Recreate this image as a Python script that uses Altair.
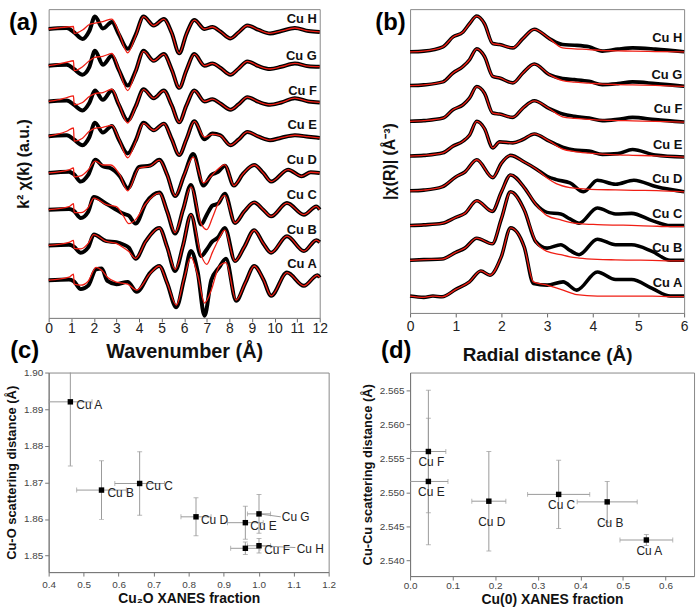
import altair as alt
import pandas as pd

FONT = "Liberation Sans"
SAMPLES = ["Cu A", "Cu B", "Cu C", "Cu D", "Cu E", "Cu F", "Cu G", "Cu H"]

# ---------------- (a) k^2 chi(k) : keypoints -------------
KA_GRID_UP = [0, 0.4, 0.8, 1.1, 1.13, 1.5, 1.8, 2.05, 2.4, 2.8, 3.1, 3.5, 3.85, 4.2, 4.65, 5.1,
              5.45, 5.78, 6.1, 6.45, 6.9, 7.25, 7.6, 8.05, 8.4, 8.8, 9.3, 9.8, 10.3, 10.9, 11.5, 12]
KA_GRID_BC = [0, 0.9, 1.1, 1.13, 1.42, 1.75, 2.0, 2.55, 3.0, 3.3, 3.55, 3.85, 4.3, 4.9, 5.25, 5.6,
              5.95, 6.3, 6.75, 7.0, 7.25, 7.5, 7.8, 8.25, 8.65, 9.1, 9.5, 9.85, 10.55, 11.3, 11.85, 12]
KA_GRID_A = [0, 0.9, 1.1, 1.13, 1.42, 1.75, 2.1, 2.35, 2.6, 3.0, 3.5, 3.9, 4.5, 4.9, 5.25, 5.65,
             6.0, 6.3, 6.6, 6.9, 7.2, 7.55, 7.85, 8.3, 8.7, 9.1, 9.5, 9.85, 10.55, 11.3, 11.9, 12]
KA_GRID_D = [0, 0.9, 1.1, 1.13, 1.42, 1.75, 2.07, 2.4, 2.75, 3.15, 3.5, 4.0, 4.5, 4.9, 5.25, 5.6,
             6.0, 6.4, 6.85, 7.2, 7.5, 7.8, 8.2, 8.6, 9.1, 9.5, 9.85, 10.6, 11.2, 11.6, 12]

CHI_DATA_A = [0, .07, -.1, -.15, -.9, -.55, 1.1, 1.17, -.07, -.4, -.17, -1.17, .77, 1.43, -.3, -2.73,
              .2, 2.93, .8, -3.57, 0, 1.3, 2.17, -2.07, -.3, 1.43, .1, -1.57, .77, -.57, .5, .27]
CHI_FIT_A = [0, .3, .6, -.4, -.5, -.1, 1.3, 1.0, .3, -.2, -.4, -1.0, .7, 1.43, -.3, -2.5,
             .2, 2.3, .5, -2.3, -1.0, 1.4, 1.77, -2.0, -.3, 1.43, .1, -1.57, .77, -.57, .5, .27]
CHI_DATA_B = [0, .07, -.1, -.15, -.73, -.2, 1.1, .43, .33, .1, -.23, -1.33, .43, 1.77, -.2, -2.57,
              0, 3.1, -1.07, -.4, .4, .8, 1.77, -1.57, -.2, 1.53, .2, -.73, .93, -.57, .53, .33]
CHI_FIT_B = [0, .3, .5, -.3, -.35, .2, 1.1, .4, .2, -.2, -.6, -1.3, .4, 1.77, -.2, -2.4,
             0, 3.1, -1.0, -1.9, -.7, .5, 1.55, -1.57, -.2, 1.53, .2, -.73, .93, -.57, .53, .33]
CHI_DATA_C = [0, .07, -.1, -.15, -.83, -.2, 1.27, .6, 0, -.4, -.6, -1.4, .67, 1.73, -.2, -2.4,
              0, 2.5, -1.5, -.5, .4, .6, 1.6, -1.33, -.2, .73, 0, -.67, .67, -.5, .33, 0]
CHI_FIT_C = [0, .3, .6, -.3, -.3, .2, 1.17, .5, .3, -.6, -1.4, -1.0, .6, 1.7, -.2, -2.3,
             0, 2.3, -1.4, -2.0, -.8, .6, 1.45, -1.33, -.2, .73, 0, -.67, .67, -.5, .33, 0]
CHI_DATA_D = [0, .13, -.1, -.15, -.87, -.2, 1.33, .67, .47, -.33, -1.53, .6, .75, 1.33, -.2, -2.33,
              -.2, 1.9, -1.27, -.2, .1, .73, -1.27, -.1, .8, 0, -.87, .33, -.33, .07, 0]
CHI_FIT_D = [0, .3, .5, -.4, -.3, .3, 1.2, .8, .8, -.2, -1.8, .5, .7, 1.3, -.2, -2.3,
             -.2, 1.6, -1.0, -.3, .4, .85, -1.27, -.1, .8, 0, -.87, .33, -.33, .07, 0]
CHI_DATA_E = [0, .07, .1, -.3, -.35, -.9, -.1, 1.37, .37, 1.03, -.3, -1.73, -.45, 1.37, .6, 1.27,
              -.3, -1.9, -.3, 1.5, -.3, .27, .1, -.9, -.35, .43, -.05, -.4, -.15, .1, -.05, -.17]
CHI_FIT_E = [0, .2, .5, .83, -.5, -.2, .5, .8, .9, 1.1, -.2, -2.17, -.55, 1.3, .6, 1.27,
             -.3, -1.9, -.3, 1.5, -.1, .2, .05, -.9, -.35, .43, -.05, -.4, -.15, .1, -.05, -.17]
CHI_DATA_F = [0, .07, .1, -.3, -.35, -.9, -.15, 1.1, .17, 1.1, -.3, -1.9, -.5, 1.23, .33, 1.1,
              -.4, -2.1, -.4, 1.1, 0, .23, -.2, -.83, -.3, .43, -.05, -.33, -.1, .33, 0, -.1]
CHI_FIT_F = [0, .15, .4, .57, -.33, -.1, .5, .8, .9, 1.23, -.2, -2.17, -.55, 1.2, .33, 1.1,
             -.4, -2.1, -.4, 1.1, 0, .23, -.2, -.83, -.3, .43, -.05, -.33, -.1, .33, 0, -.1]
CHI_DATA_G = [0, .07, .1, -.3, -.35, -.9, -.15, 1.5, .1, 1.0, -.4, -2.0, -.55, 1.5, .5, 1.17,
              -.4, -2.23, -.45, 1.17, 0, .23, -.2, -.9, -.3, .43, -.05, -.33, -.1, .23, -.05, -.1]
CHI_FIT_G = [0, .15, .35, .5, -.5, -.1, .5, .85, .95, 1.23, -.3, -2.5, -.6, 1.45, .5, 1.17,
             -.4, -2.23, -.45, 1.17, 0, .23, -.2, -.9, -.3, .43, -.05, -.33, -.1, .23, -.05, -.1]
CHI_DATA_H = [0, .07, .1, -.3, -.35, -1.0, -.2, 1.25, .05, .7, -.5, -2.0, -.6, 1.25, .35, 1.0,
              -.4, -2.45, -.5, .9, 0, .2, -.25, -.95, -.35, .35, -.1, -.45, -.2, .1, -.2, -.3]
CHI_FIT_H = [0, .1, .2, .25, -.45, -.1, .45, .6, .75, 1.0, -.3, -2.4, -.7, 1.25, .35, 1.0,
             -.4, -2.45, -.5, .9, 0, .2, -.25, -.95, -.35, .35, -.1, -.45, -.2, .1, -.2, -.3]
CHI_OFFSETS = [3.8, 7.3, 10.9, 14.6, 18.3, 21.8, 25.4, 29.1]
CHI_LABEL_LIFT = [1.6, 1.6, 1.5, 1.3, 1.1, 1.1, 1.0, 1.0]

# ---------------- (b) |chi(R)| : keypoints ----------------
RB_GRID_UP = [0, 0.3, 0.72, 0.94, 1.16, 1.3, 1.46, 1.63, 1.81, 1.96, 2.25, 2.47, 2.72, 3.05, 3.34,
              3.6, 3.92, 4.21, 4.55, 4.87, 5.37, 6.0]
RB_GRID_BC = [0, 0.3, 0.7, 1.0, 1.2, 1.46, 1.8, 2.0, 2.2, 2.5, 2.75, 3.0, 3.3, 3.5, 3.7, 4.1, 4.5,
              4.85, 5.3, 5.7, 6.0]
RB_GRID_D = [0, 0.3, 0.7, 1.0, 1.2, 1.46, 1.81, 2.0, 2.2, 2.5, 2.75, 3.0, 3.2, 3.5, 3.8, 4.1, 4.5,
             4.9, 5.4, 6.0]
RB_GRID_A = [0, 0.3, 0.5, 0.7, 1.0, 1.3, 1.55, 1.75, 2.0, 2.2, 2.5, 2.7, 3.0, 3.35, 3.65, 4.1, 4.5,
             4.85, 5.3, 5.7, 6.0]

FT_DATA_A = [0, -.13, 0, -.07, .67, 1.43, 2.53, 2.1, 4.0, 6.87, 4.93, 1.27, 1.1, 1.43, .6, 2.43,
             1.67, 1.67, .77, 0, 0]
FT_FIT_A = [0, -.13, 0, -.07, .67, 1.43, 2.53, 2.1, 4.0, 6.87, 4.93, 1.43, 1.1, .6, .15, 0,
            0, 0, 0, -.05, -.05]
FT_DATA_B = [0, .07, .13, .8, 1.23, 2.23, 1.67, 4.2, 6.9, 5.07, 1.9, 1.23, 1.57, 1.0, .57, 2.13,
             1.57, 1.57, .9, 0, 0]
FT_FIT_B = [0, .07, .13, .8, 1.23, 2.23, 1.67, 4.2, 6.9, 5.07, 1.9, .9, .57, .35, .23, .1,
            .05, .02, 0, -.05, -.05]
FT_DATA_C = [0, .07, .23, .83, 1.23, 2.5, 1.43, 3.4, 5.1, 3.83, 2.17, 1.33, 1.17, .67, .23, 1.77,
             1.17, 1.23, .5, 0, 0]
FT_FIT_C = [0, .07, .23, .83, 1.23, 2.5, 1.43, 3.4, 5.1, 3.83, 2.17, 1.0, .57, .33, .2, .1,
            .05, .02, -.05, -.1, -.1]
FT_DATA_D = [0, .07, .4, 1.4, 1.9, 3.13, 1.33, 2.8, 3.57, 2.9, 2.23, 1.47, 1.13, .8, -.1, 1.07,
             .67, 1.07, .4, -.1]
FT_FIT_D = [0, .07, .4, 1.4, 1.9, 3.13, 1.33, 2.8, 3.57, 2.9, 2.23, 1.3, .73, .33, .2, .13,
            .1, .05, .02, -.1]
FT_DATA_E = [0, .07, .33, 1.0, 1.5, 2.1, 3.5, 2.77, .83, 1.43, 1.33, 1.67, 2.23, 1.5, .9, .6,
             .5, .17, .25, .67, .1, -.1]
FT_FIT_E = [0, .07, .33, 1.0, 1.5, 2.1, 3.5, 2.77, .83, 1.43, 1.33, 1.67, 2.23, 1.5, .7, .45,
            .3, .2, .12, .08, .03, -.1]
FT_DATA_F = [0, .07, .33, 1.17, 1.67, 2.33, 3.5, 2.83, .83, .73, .4, 1.33, 2.07, 1.27, .73, .5,
             .33, .07, .2, .4, .17, -.07]
FT_FIT_F = [0, .07, .33, 1.17, 1.67, 2.33, 3.5, 2.83, .83, .73, .4, 1.33, 2.07, 1.27, .45, .3,
            .2, .12, .08, .05, 0, -.07]
FT_DATA_G = [0, .07, .37, 1.27, 1.93, 2.6, 3.7, 2.93, .93, .77, .27, 1.27, 2.17, 1.1, .7, .6,
             .43, .1, .2, .37, .2, -.07]
FT_FIT_G = [0, .07, .37, 1.27, 1.93, 2.6, 3.7, 2.93, .93, .77, .27, 1.27, 2.17, 1.1, .5, .35,
            .25, .15, .1, .07, .03, -.07]
FT_DATA_H = [0, .07, .5, 1.5, 2.0, 2.83, 3.6, 2.83, .83, .73, .4, 1.33, 2.27, 1.33, .73, .67,
             .5, .07, .27, .4, .27, 0]
FT_FIT_H = [0, .07, .5, 1.5, 2.0, 2.83, 3.6, 2.83, .83, .73, .4, 1.33, 2.27, 1.33, .4, .3,
            .23, .13, .1, .07, .03, 0]
FT_OFFSETS = [1.7, 5.3, 8.8, 12.3, 15.8, 19.3, 22.9, 26.3]
FT_LABEL_LIFT = [1.3, 1.2, 1.2, 1.2, 1.1, 1.2, 1.1, 1.4]

# ---------------- (c) Cu-O distance vs Cu2O fraction ----------------
C_NAMES = ["Cu A", "Cu B", "Cu C", "Cu D", "Cu E", "Cu F", "Cu G", "Cu H"]
C_X = [0.462, 0.551, 0.660, 0.821, 0.962, 0.962, 1.001, 1.001]
C_Y = [1.8920, 1.8679, 1.8697, 1.8606, 1.8590, 1.8520, 1.8614, 1.8527]
C_XERR = [0.062, 0.071, 0.071, 0.043, 0.051, 0.042, 0.033, 0.033]
C_YERR = [0.0175, 0.0080, 0.0087, 0.0052, 0.0045, 0.0017, 0.0053, 0.0020]
C_LEADER_NAMES = ["Cu G", "Cu H"]
C_LEADER_X2 = [1.063, 1.105]
C_LEADER_Y2 = [1.8606, 1.8522]

# ---------------- (d) Cu-Cu distance vs Cu(0) fraction ----------------
D_NAMES = ["Cu A", "Cu B", "Cu C", "Cu D", "Cu E", "Cu F"]
D_X = [0.555, 0.463, 0.349, 0.185, 0.043, 0.043]
D_Y = [2.5430, 2.5486, 2.5497, 2.5487, 2.5516, 2.5560]
D_XERR = [0.062, 0.0705, 0.073, 0.040, 0.046, 0.041]
D_YERR = [0.0008, 0.0030, 0.0050, 0.0073, 0.0093, 0.0090]

RED = "#f01e14"
GRAY = "#888888"


def curve_frame(grids, datas, fits, offsets):
    rows = []
    for name, g, d, f, off in zip(SAMPLES, grids, datas, fits, offsets):
        for xv, dv, fv in zip(g, d, f):
            rows.append({"sample": name, "x": xv, "data": dv + off, "fit": fv + off})
    return pd.DataFrame(rows)


def letter_layer(text, x, y, xs, ys, xax, yax):
    df = pd.DataFrame({"t": [text], "x": [x], "y": [y]})
    return alt.Chart(df).mark_text(align="left", baseline="middle", fontSize=24,
                                   fontWeight="bold", font=FONT, color="black",
                                   clip=False).encode(
        x=alt.X("x:Q", scale=xs, axis=xax), y=alt.Y("y:Q", scale=ys, axis=yax), text="t:N")


def spectra_panel(df, labels_df, xdom, ydom, xtitle, ytitle, width, height, xtitle_size,
                  ytitle_pad, xlabel_pad, xtitle_pad, black_width, letter):
    xax = alt.Axis(title=xtitle, values=list(range(int(xdom[1]) + 1)), format="d",
                   labelFontSize=14, labelColor="#222", labelFont=FONT, labelFlush=False,
                   titleFont=FONT, titleFontSize=xtitle_size, titleFontWeight="bold",
                   titleColor="#111", titlePadding=xtitle_pad, tickSize=4, labelPadding=xlabel_pad,
                   domainColor=GRAY, tickColor="#666", grid=False)
    yax = alt.Axis(title=ytitle, labels=False, ticks=False, domain=False, grid=False,
                   titleFont=FONT, titleFontSize=16, titleFontWeight="bold", titleColor="#111",
                   titlePadding=ytitle_pad)
    xs = alt.Scale(domain=xdom, nice=False, zero=False)
    ys = alt.Scale(domain=ydom, nice=False, zero=False)
    base = alt.Chart(df)
    black = base.mark_line(color="black", strokeWidth=black_width, interpolate="monotone").encode(
        x=alt.X("x:Q", scale=xs, axis=xax),
        y=alt.Y("data:Q", scale=ys, axis=yax),
        detail="sample:N")
    red = base.mark_line(color=RED, strokeWidth=1.3, interpolate="monotone").encode(
        x=alt.X("x:Q", scale=xs, axis=xax),
        y=alt.Y("fit:Q", scale=ys, axis=yax),
        detail="sample:N")
    text = alt.Chart(labels_df).mark_text(align="right", baseline="middle", fontSize=13,
                                          fontWeight="bold", font=FONT, color="#111").encode(
        x=alt.X("x:Q", scale=xs, axis=xax),
        y=alt.Y("y:Q", scale=ys, axis=yax),
        text="sample:N")
    let = letter_layer(letter[0], letter[1], letter[2], xs, ys, xax, yax)
    return alt.layer(black, red, text, let).properties(width=width, height=height)


# ---- panel (a)
df_a = curve_frame(
    [KA_GRID_A, KA_GRID_BC, KA_GRID_BC, KA_GRID_D, KA_GRID_UP, KA_GRID_UP, KA_GRID_UP, KA_GRID_UP],
    [CHI_DATA_A, CHI_DATA_B, CHI_DATA_C, CHI_DATA_D, CHI_DATA_E, CHI_DATA_F, CHI_DATA_G, CHI_DATA_H],
    [CHI_FIT_A, CHI_FIT_B, CHI_FIT_C, CHI_FIT_D, CHI_FIT_E, CHI_FIT_F, CHI_FIT_G, CHI_FIT_H],
    CHI_OFFSETS)
lab_a = pd.DataFrame({"sample": SAMPLES, "x": [11.87] * 8,
                      "y": [o + l for o, l in zip(CHI_OFFSETS, CHI_LABEL_LIFT)]})
panel_a = spectra_panel(df_a, lab_a, [0, 12], [0, 31.1], "Wavenumber (Å)", "k² χ(k) (a.u.)",
                        273, 311, 20, 17, 0, 6, 4, ("(a)", -1.76, 29.65))

# ---- panel (b)
df_b = curve_frame(
    [RB_GRID_A, RB_GRID_BC, RB_GRID_BC, RB_GRID_D, RB_GRID_UP, RB_GRID_UP, RB_GRID_UP, RB_GRID_UP],
    [FT_DATA_A, FT_DATA_B, FT_DATA_C, FT_DATA_D, FT_DATA_E, FT_DATA_F, FT_DATA_G, FT_DATA_H],
    [FT_FIT_A, FT_FIT_B, FT_FIT_C, FT_FIT_D, FT_FIT_E, FT_FIT_F, FT_FIT_G, FT_FIT_H],
    FT_OFFSETS)
lab_b = pd.DataFrame({"sample": SAMPLES, "x": [5.96] * 8,
                      "y": [o + l for o, l in zip(FT_OFFSETS, FT_LABEL_LIFT)]})
panel_b = spectra_panel(df_b, lab_b, [0, 6], [0, 30.6], "Radial distance (Å)", "|χ(R)| (Å⁻³)",
                        276, 306, 19, 13, 3, 12, 3.6, ("(b)", -0.76, 29.15))


# ---- scatter panels
def scatter_panel(names, xs_, ys_, xerr, yerr, xdom, ydom, xticks, yticks, xfmt, yfmt,
                  xtitle, ytitle, width, height, label_offsets, label_align, letter,
                  xlabel_pad, xtitle_pad, ytitle_pad, leaders=None):
    df = pd.DataFrame({"name": names, "x": xs_, "y": ys_})
    df["xlo"] = [a - b for a, b in zip(xs_, xerr)]
    df["xhi"] = [a + b for a, b in zip(xs_, xerr)]
    df["ylo"] = [a - b for a, b in zip(ys_, yerr)]
    df["yhi"] = [a + b for a, b in zip(ys_, yerr)]
    vcaps = pd.DataFrame({"cx": list(df["x"]) * 2, "cy": list(df["ylo"]) + list(df["yhi"])})
    hcaps = pd.DataFrame({"cx": list(df["xlo"]) + list(df["xhi"]), "cy": list(df["y"]) * 2})

    xax = alt.Axis(title=xtitle, values=xticks, format=xfmt, labelFontSize=10, labelColor="#444",
                   labelFont=FONT, labelFlush=False, tickSize=4, labelPadding=xlabel_pad,
                   titleFont=FONT, titleFontSize=14, titleFontWeight="bold", titleColor="#111",
                   titlePadding=xtitle_pad, domainColor="#777", tickColor="#777", grid=False)
    yax = alt.Axis(title=ytitle, values=yticks, format=yfmt, labelFontSize=10, labelColor="#444",
                   labelFont=FONT, labelFlush=False, tickSize=4, labelPadding=2,
                   titleFont=FONT, titleFontSize=13, titleFontWeight="bold", titleColor="#111",
                   titlePadding=ytitle_pad, domainColor="#777", tickColor="#777", grid=False)
    xs = alt.Scale(domain=xdom, nice=False, zero=False)
    ys = alt.Scale(domain=ydom, nice=False, zero=False)

    base = alt.Chart(df)
    vbar = base.mark_rule(color="#9a9a9a", strokeWidth=1, clip=True).encode(
        x=alt.X("x:Q", scale=xs, axis=xax), y=alt.Y("ylo:Q", scale=ys, axis=yax), y2="yhi:Q")
    hbar = base.mark_rule(color="#9a9a9a", strokeWidth=1, clip=True).encode(
        x=alt.X("xlo:Q", scale=xs, axis=xax), x2="xhi:Q", y=alt.Y("y:Q", scale=ys, axis=yax))
    vcap = alt.Chart(vcaps).mark_tick(orient="horizontal", size=5, thickness=1, color="#9a9a9a",
                                      clip=True).encode(
        x=alt.X("cx:Q", scale=xs, axis=xax), y=alt.Y("cy:Q", scale=ys, axis=yax))
    hcap = alt.Chart(hcaps).mark_tick(orient="vertical", size=5, thickness=1, color="#9a9a9a",
                                      clip=True).encode(
        x=alt.X("cx:Q", scale=xs, axis=xax), y=alt.Y("cy:Q", scale=ys, axis=yax))
    layers = [vbar, hbar, vcap, hcap]
    if leaders is not None:
        lnames, lx2, ly2 = leaders
        ldf = df[df["name"].isin(lnames)].copy().set_index("name").loc[lnames].reset_index()
        ldf["x2"] = lx2
        ldf["y2"] = ly2
        layers.append(alt.Chart(ldf).mark_rule(color="#9a9a9a", strokeWidth=1).encode(
            x=alt.X("x:Q", scale=xs, axis=xax), y=alt.Y("y:Q", scale=ys, axis=yax),
            x2="x2:Q", y2="y2:Q"))
    pts = base.mark_square(size=30, color="black", opacity=1).encode(
        x=alt.X("x:Q", scale=xs, axis=xax), y=alt.Y("y:Q", scale=ys, axis=yax))
    layers.append(pts)
    for nm in names:
        dx, dy = label_offsets[nm]
        layers.append(base.transform_filter(alt.datum.name == nm).mark_text(
            align=label_align, baseline="middle", dx=dx, dy=dy, fontSize=12, font=FONT,
            color="#222").encode(
            x=alt.X("x:Q", scale=xs, axis=xax), y=alt.Y("y:Q", scale=ys, axis=yax),
            text="name:N"))
    layers.append(letter_layer(letter[0], letter[1], letter[2], xs, ys, xax, yax))
    return alt.layer(*layers).properties(width=width, height=height)


c_offsets = {"Cu A": (6, 3), "Cu B": (6, 3), "Cu C": (6, 3), "Cu D": (5, 3), "Cu E": (5, 3),
             "Cu F": (19, 2), "Cu G": (23, 3), "Cu H": (38, 3)}
panel_c = scatter_panel(C_NAMES, C_X, C_Y, C_XERR, C_YERR, [0.4, 1.2], [1.8455, 1.90],
                        [0.4, 0.5, 0.6, 0.7, 0.8, 0.9, 1.0, 1.1, 1.2],
                        [1.85, 1.86, 1.87, 1.88, 1.89, 1.90], ".1f", ".2f",
                        "Cu₂O XANES fraction", "Cu-O scattering distance (Å)", 282, 201,
                        c_offsets, "left", ("(c)", 0.29, 1.906), 4, 2, 5,
                        leaders=(C_LEADER_NAMES, C_LEADER_X2, C_LEADER_Y2))

d_offsets = {"Cu A": (3, 11), "Cu B": (3, 21), "Cu C": (3, 11), "Cu D": (3, 21),
             "Cu E": (3, 11), "Cu F": (3, 11)}
panel_d = scatter_panel(D_NAMES, D_X, D_Y, D_XERR, D_YERR, [0.0, 0.667], [2.5377, 2.5676],
                        [0.0, 0.1, 0.2, 0.3, 0.4, 0.5, 0.6],
                        [2.540, 2.545, 2.550, 2.555, 2.560, 2.565], ".1f", ".3f",
                        "Cu(0) XANES fraction", "Cu-Cu scattering distance (Å)", 286, 205,
                        d_offsets, "center", ("(d)", -0.068, 2.5707), 1, 2, 5)

chart = alt.concat(panel_a, panel_b, panel_c, panel_d, columns=2,
                   spacing={"row": 55, "column": 82}, bounds="flush").configure(
    font=FONT).configure_view(stroke=GRAY, strokeWidth=1)

chart.save("out.html", embed_options={"renderer": "svg", "actions": False})
